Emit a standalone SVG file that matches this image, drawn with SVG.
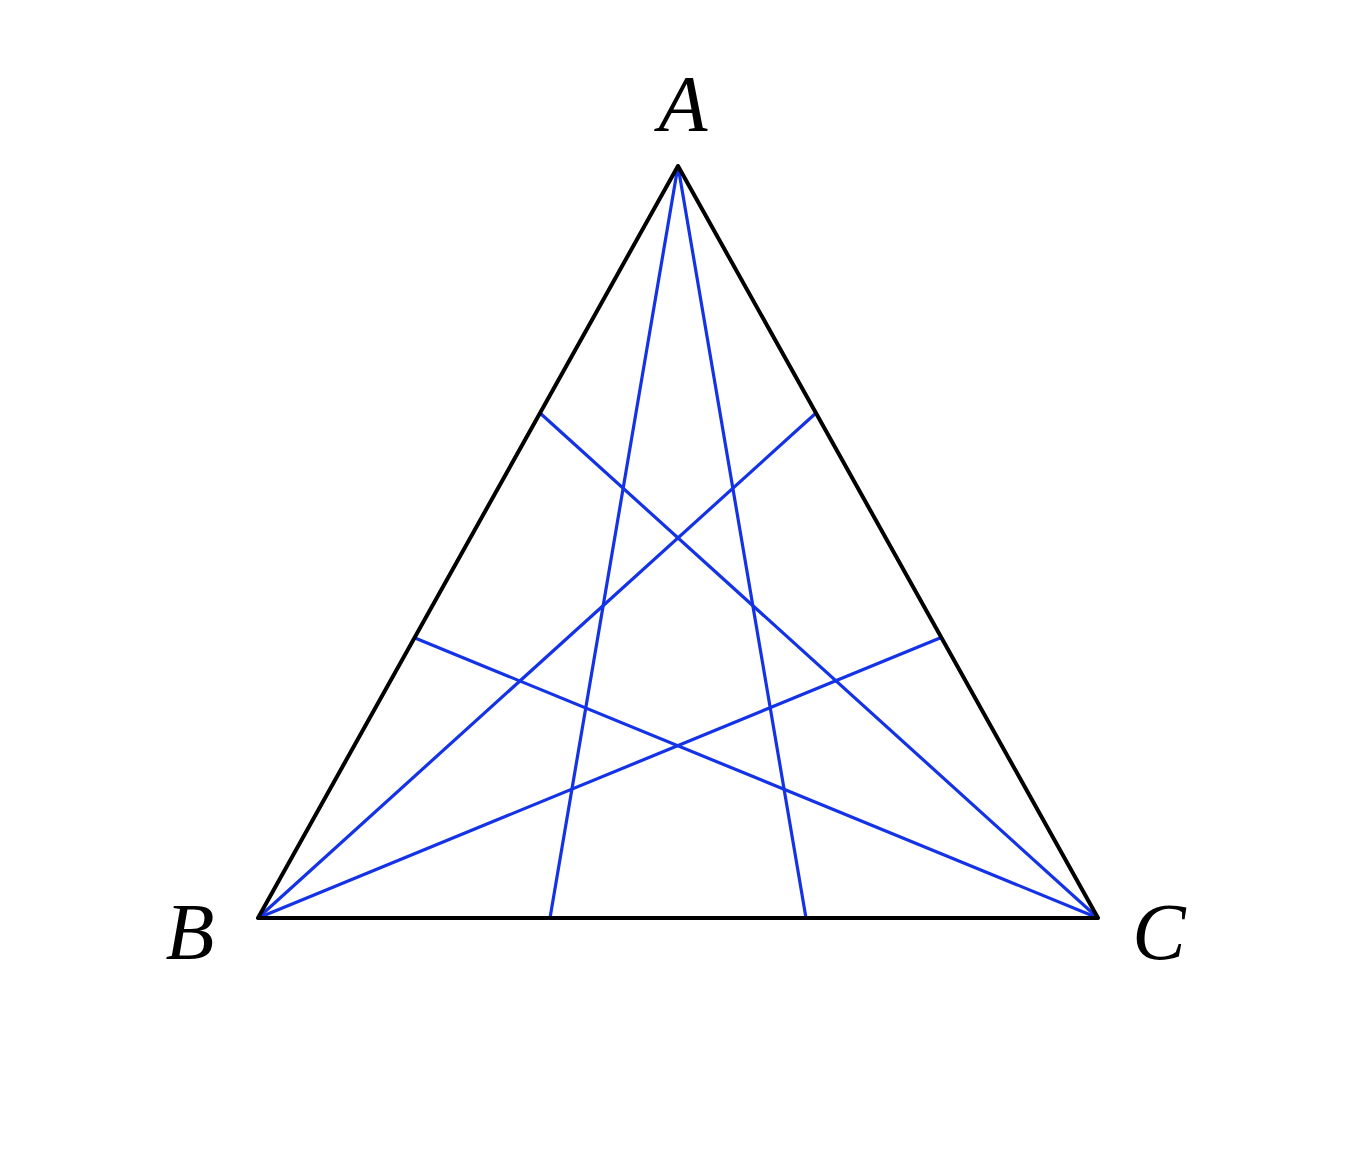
<svg xmlns="http://www.w3.org/2000/svg" width="1356" height="1160" viewBox="0 0 1356 1160">
<style>
.tri{fill:none;stroke:#000;stroke-width:4;stroke-linejoin:round}
.cev{stroke:#1533e6;stroke-width:3.2;stroke-linecap:round}
.lbl{font-family:"Liberation Serif",serif;font-style:italic;font-size:80px;fill:#000}
</style>
<rect width="1356" height="1160" fill="#fff"/>
<g id="connectors">
<line class="cev" x1="678" y1="166" x2="550" y2="918"/>
<line class="cev" x1="678" y1="166" x2="806" y2="918"/>
<line class="cev" x1="258" y1="918" x2="816" y2="413"/>
<line class="cev" x1="258" y1="918" x2="940" y2="638"/>
<line class="cev" x1="1098" y1="918" x2="540" y2="413"/>
<line class="cev" x1="1098" y1="918" x2="415" y2="638"/>
</g>
<g id="triangle">
<polygon class="tri" points="678,166 258,918 1098,918"/>
</g>
<g id="A"><text class="lbl" x="683" y="131" text-anchor="middle">A</text></g>
<g id="B"><text class="lbl" x="190" y="959" text-anchor="middle">B</text></g>
<g id="C"><text class="lbl" x="1159" y="959" text-anchor="middle">C</text></g>
</svg>
